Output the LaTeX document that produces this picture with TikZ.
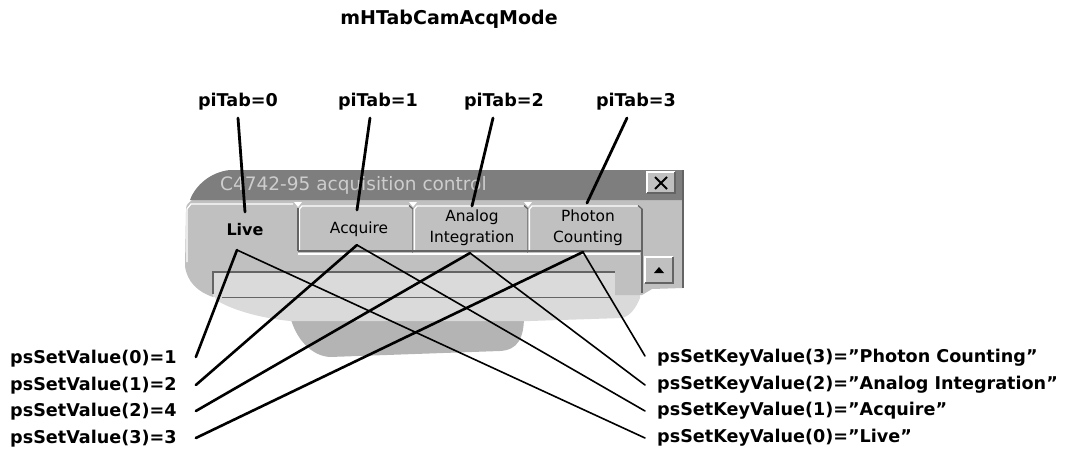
\documentclass[tikz,border=0pt]{standalone}
\usepackage{fontspec}
\setmainfont{DejaVu Sans}
\definecolor{winbg}{RGB}{192,192,192}
\definecolor{tbar}{RGB}{126,126,126}
\definecolor{tbtext}{RGB}{205,205,205}
\definecolor{lightc}{RGB}{218,218,218}
\definecolor{blobc}{RGB}{180,180,180}
\definecolor{edgec}{RGB}{100,100,100}
\newcommand{\sq}{\char34\relax}
\begin{document}
\begin{tikzpicture}[x=1pt,y=-1pt,
  lbl/.style={font=\fontsize{17.6}{20}\selectfont\bfseries, inner sep=0pt},
  ttl/.style={font=\fontsize{19}{22}\selectfont\bfseries, inner sep=0pt},
  tabtxt/.style={font=\fontsize{15.4}{21}\selectfont, align=center, inner sep=0pt},
  pline/.style={line width=2.8pt, line cap=round},
  vline/.style={line width=2.6pt, line cap=round},
  kline/.style={line width=1.6pt, line cap=round},
  tabedge/.style={draw=edgec, line width=1.2pt},
  hil/.style={draw=white, line width=1.2pt}]
\useasboundingbox (0,0) rectangle (1078,455);

% ---- window (screenshot fragment) ----
\fill[blobc] (290,316) -- (524,316) .. controls (524,338) and (518,350) .. (500,351) -- (330,357) .. controls (312,356) and (296,340) .. (290,316) -- cycle;
\fill[lightc] (213,292) -- (640,292) -- (640,298) .. controls (636,308) and (630,316) .. (622,318) -- (530,321) -- (290,321) .. controls (260,318) and (232,310) .. (216,300) -- cycle;
\fill[winbg] (186,212) .. controls (186,205) .. (192,200) -- (683,200) -- (683,288) -- (652,289) -- (642,295) -- (213,297) .. controls (198,292) and (187,282) .. (185,266) -- cycle;
\fill[tbar] (190,200) .. controls (195,186) and (210,172) .. (230,170) -- (683,170) -- (683,200) -- cycle;
\draw[tabedge] (683,170) -- (683,288);
\node[anchor=west, text=tbtext, font=\fontsize{18.5}{20}\selectfont, inner sep=0pt] (wtitle) at (220,185) {C4742-95 acquisition control};

% close button
\fill[winbg] (647,172) rectangle (675,193);
\draw[hil] (647,193) -- (647,172) -- (675,172);
\draw[tabedge] (675,172) -- (675,193) -- (647,193);
\draw[line width=2pt] (655,177) -- (667,189) (667,177) -- (655,189);

% tabs
\fill[winbg] (186,253) -- (186,209) -- (191,203) -- (293,203) -- (298,208) -- (298,253) -- cycle;
\draw[hil] (187,262) -- (187,209) -- (191,204) -- (293,204);
\foreach \xa/\xb in {298/413, 413/528, 528/642}{
  \fill[winbg] (\xa,253) -- (\xa,209) -- (\xa+4,205) -- (\xb-4,205) -- (\xb,209) -- (\xb,253) -- cycle;
  \draw[hil] (\xa+1.5,251) -- (\xa+1.5,209) -- (\xa+4,206) -- (\xb-4,206);
  \draw[tabedge] (\xb-4,205.5) -- (\xb,209) -- (\xb,253);
  \fill[white] (\xa-4,202) -- (\xa+4,202) -- (\xa,207) -- cycle;
}
\draw[tabedge] (298,208) -- (298,251);
\draw[tabedge] (298,251) -- (642,251);
\draw[hil] (298,254) -- (640,254);
\draw[tabedge] (642,209) -- (642,293);

% text box in panel
\fill[lightc] (213,272) rectangle (615,297);
\draw[tabedge] (213,294) -- (213,272) -- (615,272);
\draw[draw=edgec, line width=1pt] (222,297) -- (610,297);

% scroll button
\fill[winbg] (645,257) rectangle (673,283);
\draw[hil] (645,283) -- (645,257) -- (673,257);
\draw[tabedge] (673,257) -- (673,283) -- (645,283);
\fill (654,273) -- (664,273) -- (659,267) -- cycle;

% ---- labels ----
\node[ttl] (title) at (449,19) {mHTabCamAcqMode};
\node[lbl] (p0) at (238,102) {piTab=0};
\node[lbl] (p1) at (378,102) {piTab=1};
\node[lbl] (p2) at (504,102) {piTab=2};
\node[lbl] (p3) at (636,102) {piTab=3};

\node[tabtxt, font=\fontsize{16}{21}\selectfont\bfseries] (t0) at (245,230) {Live};
\node[tabtxt] (t1) at (359,229) {Acquire};
\node[tabtxt] (t2) at (472,228) {Analog\\Integration};
\node[tabtxt] (t3) at (588,228) {Photon\\Counting};

\node[lbl, anchor=west] (l0) at (10,359) {psSetValue(0)=1};
\node[lbl, anchor=west] (l1) at (10,386) {psSetValue(1)=2};
\node[lbl, anchor=west] (l2) at (10,412) {psSetValue(2)=4};
\node[lbl, anchor=west] (l3) at (10,439) {psSetValue(3)=3};

\node[lbl, anchor=west] (r3) at (657,358) {psSetKeyValue(3)=\sq Photon Counting\sq};
\node[lbl, anchor=west] (r2) at (657,385) {psSetKeyValue(2)=\sq Analog Integration\sq};
\node[lbl, anchor=west] (r1) at (657,411) {psSetKeyValue(1)=\sq Acquire\sq};
\node[lbl, anchor=west] (r0) at (657,438) {psSetKeyValue(0)=\sq Live\sq};

% ---- connectors ----
\draw[pline] ([yshift=-16pt]p0.center) -- ([yshift=18pt]t0.center);
\draw[pline] ([xshift=-8pt,yshift=-16pt]p1.center) -- ([xshift=-2pt,yshift=19pt]t1.center);
\draw[pline] ([xshift=-11pt,yshift=-16pt]p2.center) -- ([yshift=22pt]t2.center);
\draw[pline] ([xshift=-9pt,yshift=-16pt]p3.center) -- ([xshift=-1pt,yshift=25pt]t3.center);

\coordinate (v0) at ([xshift=-8pt,yshift=-20pt]t0.center);
\coordinate (v1) at ([xshift=-2pt,yshift=-16pt]t1.center);
\coordinate (v2) at ([xshift=-2pt,yshift=-25pt]t2.center);
\coordinate (v3) at ([xshift=-5pt,yshift=-24pt]t3.center);

\draw[vline] (v0) -- ([xshift=19pt,yshift=2pt]l0.east);
\draw[vline] (v1) -- ([xshift=19pt,yshift=1pt]l1.east);
\draw[vline] (v2) -- ([xshift=19pt,yshift=1pt]l2.east);
\draw[vline] (v3) -- ([xshift=19pt,yshift=1pt]l3.east);

\draw[kline] (v0) -- ([xshift=-12pt]r0.west);
\draw[kline] (v1) -- ([xshift=-12pt]r1.west);
\draw[kline] (v2) -- ([xshift=-12pt]r2.west);
\draw[kline] (v3) -- ([xshift=-12pt,yshift=2pt]r3.west);
\end{tikzpicture}
\end{document}
